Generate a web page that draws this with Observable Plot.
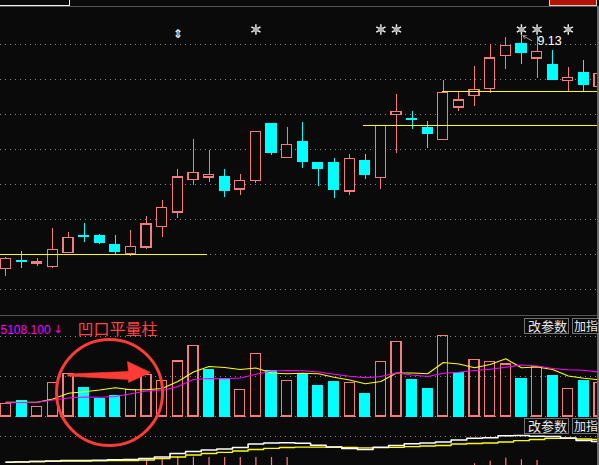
<!DOCTYPE html>
<html><head><meta charset="utf-8">
<script src="https://cdn.jsdelivr.net/npm/d3@7"></script>
<script src="https://cdn.jsdelivr.net/npm/@observablehq/plot@0.6"></script>
<style>
html,body{margin:0;padding:0;background:#0a0a0a;}
#chart{position:relative;width:599px;height:465px;overflow:hidden;background:#0a0a0a;}
.ui{position:absolute;box-sizing:border-box;}
.btn{position:absolute;box-sizing:border-box;height:16px;border:1px solid #737373;color:#e8e8e8;font:13px/14px "Noto Sans CJK SC",sans-serif;padding:0 0 0 3px;background:#0a0a0a;white-space:nowrap;}
.btn.narrow{font-size:12px;padding-left:1px;}
</style></head><body><div id="chart"></div><script>
// ---- price candles ----
const opens  = [5.79,5.90,5.87,5.82,6.02,6.27,6.27,6.14,6.00,6.10,6.39,6.60,7.06,7.10,7.11,6.93,7.05,7.86,7.38,7.61,7.30,7.31,6.90,7.34,7.09,7.99,7.94,7.81,7.64,8.10,8.26,8.37,8.84,9.00,8.80,8.71,8.48,8.59,8.39];
const highs  = [5.96,6.04,5.94,6.37,6.32,6.45,6.29,6.27,6.34,6.54,6.77,7.22,7.64,7.49,7.21,7.14,7.76,7.86,7.82,7.89,7.30,7.37,7.43,7.43,7.84,8.29,8.04,7.90,8.49,8.32,8.69,9.00,9.10,9.13,9.11,8.91,8.67,8.77,8.60];
const lows   = [5.68,5.80,5.83,5.80,6.015,6.17,6.15,6.00,5.97,6.07,6.25,6.52,6.98,7.03,6.82,6.84,7.02,7.41,7.38,7.23,6.97,6.80,6.85,7.07,6.93,7.45,7.79,7.52,7.64,8.05,8.12,8.30,8.65,8.72,8.52,8.50,8.33,8.33,8.38];
const closes = [5.94,5.89,5.885,6.07,6.24,6.255,6.17,6.04,6.11,6.43,6.67,7.10,7.17,7.14,6.91,7.05,7.75,7.45,7.57,7.32,7.22,6.92,7.37,7.14,7.84,8.04,7.925,7.72,8.31,8.20,8.35,8.80,8.98,8.88,8.89,8.50,8.52,8.43,8.58];
const priceTicks = [5.5,6,6.5,7,7.5,8,8.5,9];
// support lines: price, start index, end index
const levelPrices = [6.00, 7.84, 8.33];
const levelStarts = [-0.36, 22.9, 27.95];
const levelEnds   = [12.9, 38, 38];
const starCandles = [16,24,25,33,34,36];
const flagCandles = [11];
const maxCandle = 33;

// ---- volume ----
const volumes = [1270,1530,930,3370,4270,2800,1730,2070,2670,4170,3530,5500,7070,4600,3700,2670,6270,4570,3570,4270,3000,3430,3370,2200,5470,7430,3600,2700,8070,4330,5670,5430,5200,3700,4930,4030,2770,3500,3370];
const volUp   = [1,0,1,1,1,0,0,0,1,1,1,1,1,0,0,1,1,0,1,0,0,0,1,0,1,1,0,0,1,0,1,1,1,0,1,0,1,0,1];
const volMA5  = [1430,1430,1430,1750,2320,2470,2650,2870,2670,2670,2800,3500,4450,5000,4900,4700,4850,4350,4270,4330,4270,3930,3650,3270,3500,4350,4350,4270,5400,5250,4870,5200,5770,4870,4950,4700,4050,3830,3670];
const volMA10 = [1350,1400,1430,1650,1850,1950,1930,2000,2270,2550,2600,3000,3700,3800,3770,3850,4230,4550,4600,4580,4450,4230,4030,3880,4000,4350,4150,4000,4320,4420,4600,4720,4930,5150,5050,4800,4670,4630,4430];
const volTicks = [0,4000,8000];
const volLabel = "5108.100";
const panelTitle = "凹口平量柱";
// annotation: circle (candle index, volume) and arrow outline
const ringCenter = {i: 6.63, v: 2400};
const arrowX = [3.94, 7.84, 7.78, 9.25, 7.84, 7.84, 3.94];
const arrowV = [4250, 4500, 5500, 4400, 3400, 3700, 4050];

// ---- lower indicator ----
const dif = [0.083,0.085,0.09,0.095,0.10,0.10,0.103,0.107,0.11,0.12,0.135,0.17,0.19,0.205,0.215,0.23,0.265,0.275,0.278,0.273,0.253,0.235,0.22,0.21,0.233,0.25,0.267,0.275,0.285,0.305,0.322,0.328,0.347,0.35,0.343,0.34,0.325,0.30,0.29];
const dea = [0.083,0.087,0.09,0.092,0.094,0.095,0.097,0.099,0.10,0.105,0.118,0.135,0.155,0.17,0.182,0.195,0.21,0.222,0.23,0.233,0.233,0.233,0.23,0.227,0.228,0.232,0.238,0.245,0.25,0.265,0.27,0.275,0.285,0.298,0.31,0.322,0.322,0.315,0.31];
const macdHist = [null,null,null,null,null,null,null,null,null,0.12,0.13,0.133,0.133,0.13,0.13,0.13,0.13,0.13,0.13,null,null,null,null,null,null,null,null,null,null,null,0.067,0.093,0.123,0.107,0.10,null,null,null,null];
const macdTicks = [0.34];
const buttonLabels = ["改参数", "加指"];

// ---- build ----
const BG = "#0a0a0a", UP = "#f47c7c", DOWN = "#00ffff", GRID = "#8a8a8a";
const n = opens.length;
const candles = d3.range(n).map(i => ({i, open: opens[i], high: highs[i], low: lows[i], close: closes[i], up: closes[i] >= opens[i]}));
const vol = d3.range(n).map(i => ({i, v: volumes[i], up: volUp[i] === 1, ma5: volMA5[i], ma10: volMA10[i], dif: dif[i], dea: dea[i], h: macdHist[i]}));
const levels = levelPrices.map((p, k) => ({p, a: levelStarts[k], b: levelEnds[k]}));
const xDomain = [-0.352, 37.87];
const hw = 0.32;
const common = {width: 599, marginTop: 0, marginBottom: 0, marginLeft: 0, marginRight: 2,
  x: {domain: xDomain, axis: null}, color: {type: "identity"},
  style: {background: "transparent", overflow: "hidden"}};

const price = Plot.plot({...common, height: 316,
  y: {domain: [5.1143, 9.6286], axis: null},
  marks: [
    Plot.ruleY(priceTicks, {stroke: GRID, strokeDasharray: "1,4", shapeRendering: "crispEdges"}),
    Plot.ruleX(candles, {x: "i", y1: "low", y2: "high", stroke: d => d.up ? UP : DOWN, shapeRendering: "crispEdges", clip: true}),
    Plot.rect(candles, {x1: d => d.i - hw, x2: d => d.i + hw, y1: d => Math.min(d.open, d.close), y2: d => Math.max(d.open, d.close),
      fill: d => d.up ? BG : DOWN, stroke: d => d.up ? UP : DOWN, strokeWidth: 1.2, shapeRendering: "crispEdges", clip: true}),
    Plot.ruleY(levels, {y: "p", x1: "a", x2: "b", stroke: "#ffff00", strokeWidth: 1.3, shapeRendering: "crispEdges", clip: true}),
    Plot.dot(starCandles, {x: d => d, frameAnchor: "top", dy: 29, r: 5, symbol: "asterisk", stroke: "#f4f4f4", strokeWidth: 1.4}),
    Plot.dot(starCandles, {x: d => d, frameAnchor: "top", dy: 29, r: 2.8, fill: "#b0b0b0"}),
    Plot.text(flagCandles, {x: d => d, frameAnchor: "top", dy: 29, text: () => "⇕", fill: "#eeeeee", fontSize: 12, fontWeight: "bold", fontFamily: "DejaVu Sans"}),
    Plot.arrow([candles[maxCandle]], {x1: d => d.i + 0.66, y1: d => d.high - 0.075, x2: d => d.i + 0.1, y2: d => d.high - 0.005, stroke: "#9a9a9a", headLength: 5, strokeWidth: 1}),
    Plot.text([candles[maxCandle]], {x: "i", y: "high", text: d => d.high.toFixed(2), dx: 16, dy: 6, textAnchor: "start", fill: "#ffffff", fontSize: 12.5, fontFamily: "Liberation Sans"})
  ]});

const lower = Plot.plot({...common, height: 49,
  y: {domain: [0.05, 0.54], axis: null},
  marks: [
    Plot.ruleY(macdTicks, {stroke: GRID, strokeDasharray: "1,4", shapeRendering: "crispEdges"}),
    Plot.ruleX(vol.filter(d => d.h != null), {x: "i", y1: 0, y2: "h", stroke: UP, strokeWidth: 1.2}),
    Plot.line(vol, {x: "i", y: "dea", stroke: "#ffff00", strokeWidth: 1.3, curve: "step"}),
    Plot.line(vol, {x: "i", y: "dif", stroke: "#ffffff", strokeWidth: 1.6, curve: "step"})
  ]});

const arrowPts = arrowX.map((x, k) => ({x, v: arrowV[k]}));
const volume = Plot.plot({...common, height: 149,
  y: {domain: [-4900, 10000], axis: null},
  marks: [
    Plot.ruleY(volTicks, {stroke: GRID, strokeDasharray: "1,4", shapeRendering: "crispEdges"}),
    Plot.rect(vol, {x1: d => d.i - hw, x2: d => d.i + hw, y1: 0, y2: "v", fill: d => d.up ? "none" : DOWN,
      stroke: d => d.up ? UP : DOWN, strokeWidth: 1.2, shapeRendering: "crispEdges", clip: true}),
    Plot.line(vol, {x: "i", y: "ma5", stroke: "#ffff00", strokeWidth: 1.1}),
    Plot.line(vol, {x: "i", y: "ma10", stroke: "#ff00ff", strokeWidth: 1.1}),
    Plot.dot([ringCenter], {x: "i", y: "v", r: 53, stroke: "#ff3b36", strokeWidth: 3, fill: "none"}),
    Plot.line(arrowPts, {x: "x", y: "v", fill: "#ff3b36", stroke: "#ff3b36", strokeWidth: 0.6}),
    Plot.text([volLabel], {frameAnchor: "top-left", dx: 0, dy: 9, textAnchor: "start", fill: "#ff00ff", fontSize: 12, fontFamily: "Liberation Sans"}),
    Plot.text(["↓"], {frameAnchor: "top-left", dx: 57.5, dy: 9, textAnchor: "middle", fill: "#ff00ff", fontSize: 11, fontFamily: "DejaVu Sans"}),
    Plot.text([panelTitle], {frameAnchor: "top-left", dx: 77, dy: 7.5, textAnchor: "start", fill: "#ff4242", fontSize: 16, fontFamily: "Noto Sans CJK SC"})
  ]});

const chart = document.getElementById("chart");
function place(el, top) { el.style.position = "absolute"; el.style.left = "0px"; el.style.top = top + "px"; chart.appendChild(el); }
place(price, 0);
place(lower, 416);
place(volume, 316);

function ui(css) { const d = document.createElement("div"); d.className = "ui"; d.style.cssText += css; chart.appendChild(d); return d; }
ui("left:0;top:6px;width:599px;height:1px;background:#555;");
ui("left:0;top:315px;width:599px;height:1px;background:#555;");
ui("left:-2px;top:-3px;width:72px;height:9px;border:1.5px solid #f0f0f0;");
ui("left:549px;top:-3px;width:48px;height:9px;border:1px solid #d0d0d0;background:#b31400;");
ui("left:597px;top:6px;width:2px;height:459px;background:#6a6a6a;");
function btn(label, left, top, width, cls) { const d = document.createElement("div"); d.className = "btn" + (cls ? " " + cls : ""); d.textContent = label; d.style.left = left + "px"; d.style.top = top + "px"; d.style.width = width + "px"; chart.appendChild(d); }
btn(buttonLabels[0], 524, 318, 45);
btn(buttonLabels[1], 572, 318, 27, "narrow");
btn(buttonLabels[0], 524, 418, 45);
btn(buttonLabels[1], 572, 418, 27, "narrow");
</script></body></html>
